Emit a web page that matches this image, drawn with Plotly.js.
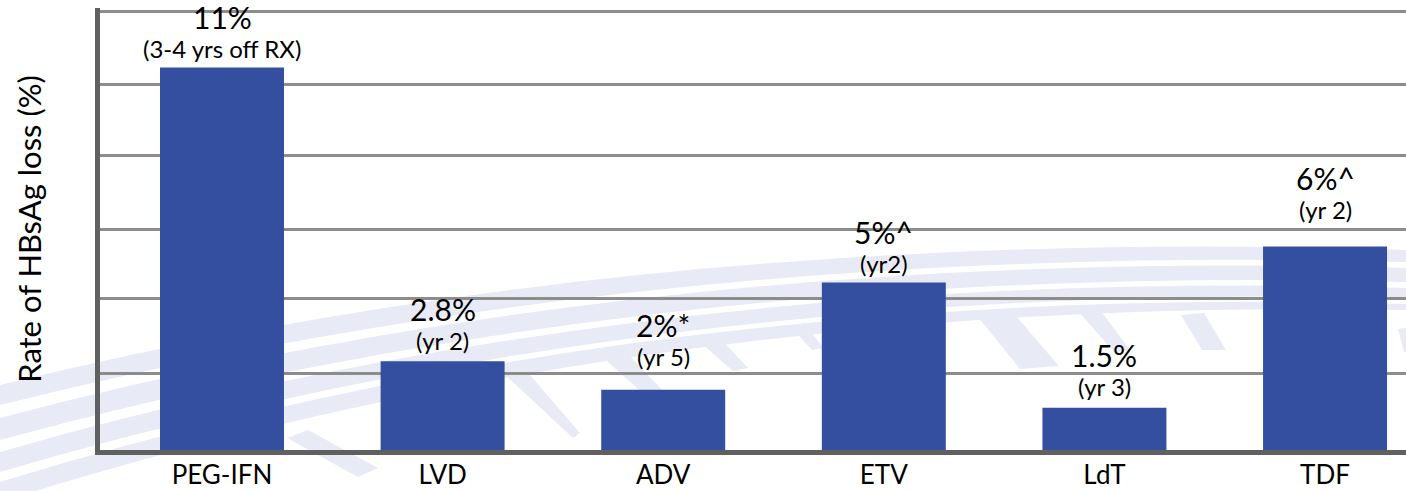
<!DOCTYPE html>
<html>
<head>
<meta charset="utf-8">
<script src="https://cdn.plot.ly/plotly-3.0.1.min.js"></script>
<style>
  html, body { margin: 0; padding: 0; background: #ffffff; }
  #chart { width: 1406px; height: 491px; }
</style>
</head>
<body>
<div id="chart"></div>
<script>
// ---- data ----
const categories   = ['PEG-IFN', 'LVD', 'ADV', 'ETV', 'LdT', 'TDF'];
const values       = [11, 2.8, 2, 5, 1.5, 6];
const valueLabels  = ['11%', '2.8%', '2%*', '5%^', '1.5%', '6%^'];
const periodLabels = ['(3-4 yrs off RX)', '(yr 2)', '(yr 5)', '(yr2)', '(yr 3)', '(yr 2)'];
const yTitle       = 'Rate of HBsAg loss (%)';

// ---- styling / layout helpers ----
const BAR_COLOR = '#354fa0';
const SWOOSH = '#e8ebf6';
const FONT = 'Lato, "Open Sans", sans-serif';
const gridVals = [2.461, 4.556, 6.464, 8.531, 10.533, 12.567];
const labelGap = [7, 8, 21, 6, 9, 25];

const X0 = 100, X1 = 1406, Y0 = 450, Y1 = 8;
function P(pt) { return ((pt[0] - X0) / (X1 - X0)).toFixed(4) + ',' + ((Y0 - pt[1]) / (Y0 - Y1)).toFixed(4); }
function band(a, b, c, d, e, f) {
  return 'M' + P(a) + ' Q' + P(b) + ' ' + P(c) + ' L' + P(d) + ' Q' + P(e) + ' ' + P(f) + ' Z';
}
function poly(pts) { return 'M' + pts.map(P).join(' L') + ' Z'; }

const swooshPaths = [
  band([0,385],[650,225],[1406,250],[1406,262],[650,242],[0,405]),
  band([0,418],[650,246],[1406,268],[1406,282],[650,262],[0,440]),
  band([0,452],[650,265],[1406,288],[1406,298],[650,280],[0,472]),
  band([0,482],[650,282],[1406,304],[1406,310],[650,295],[-10,505]),
  poly([[287,438],[308,430],[378,468],[358,477]]),
  poly([[503,373],[523,367],[580,433],[573,438]]),
  poly([[597,352],[622,348],[664,392],[648,398]]),
  poly([[693,336],[715,333],[748,368],[733,371]]),
  poly([[790,326],[805,323],[823,348],[812,350]]),
  poly([[974,312],[1010,309],[1059,366],[1020,369]]),
  poly([[1079,312],[1100,310],[1130,350],[1115,353]]),
  poly([[1181,315],[1204,313],[1226,350],[1202,350]]),
  poly([[1398,329],[1410,327],[1410,352],[1404,352]])
];

const shapes = swooshPaths.map(p => ({
  type: 'path', path: p, xref: 'paper', yref: 'paper', layer: 'below',
  fillcolor: SWOOSH, line: { width: 0 }
}));

const annotations = [];
categories.forEach((c, i) => {
  annotations.push({
    x: c, y: values[i], xref: 'x', yref: 'y', text: periodLabels[i], showarrow: false,
    yanchor: 'bottom', xanchor: 'center', yshift: labelGap[i] - 4,
    font: { family: FONT, size: 24, color: '#000000' }
  });
  annotations.push({
    x: c, y: values[i], xref: 'x', yref: 'y', text: valueLabels[i], showarrow: false,
    yanchor: 'bottom', xanchor: 'center', yshift: labelGap[i] + 24,
    font: { family: FONT, size: 30, color: '#000000' }
  });
});

const trace = {
  type: 'bar', x: categories, y: values, width: 0.562,
  marker: { color: BAR_COLOR, line: { width: 0 } },
  hoverinfo: 'skip'
};

const layout = {
  width: 1406, height: 491,
  margin: { l: X0, r: 0, t: Y1, b: 491 - Y0 },
  paper_bgcolor: '#ffffff', plot_bgcolor: 'rgba(0,0,0,0)',
  showlegend: false,
  font: { family: FONT, color: '#000000' },
  xaxis: {
    type: 'category', range: [-0.553, 5.367],
    showline: true, linewidth: 5, linecolor: '#606060',
    showgrid: false, zeroline: false, ticks: '',
    tickfont: { family: FONT, size: 26, color: '#000000' },
    ticklabelstandoff: -2,
    fixedrange: true
  },
  yaxis: {
    range: [0.318, 12.665], tickmode: 'array', tickvals: gridVals,
    showticklabels: false, ticks: '',
    showgrid: true, gridcolor: '#8c8c8c', gridwidth: 3,
    showline: true, linewidth: 5, linecolor: '#606060', zeroline: false,
    title: { text: yTitle, font: { family: FONT, size: 31, color: '#000000' }, standoff: 46 },
    automargin: false, fixedrange: true
  },
  shapes: shapes,
  annotations: annotations
};

Plotly.newPlot('chart', [trace], layout, { displayModeBar: false, staticPlot: true });
</script>
</body>
</html>
